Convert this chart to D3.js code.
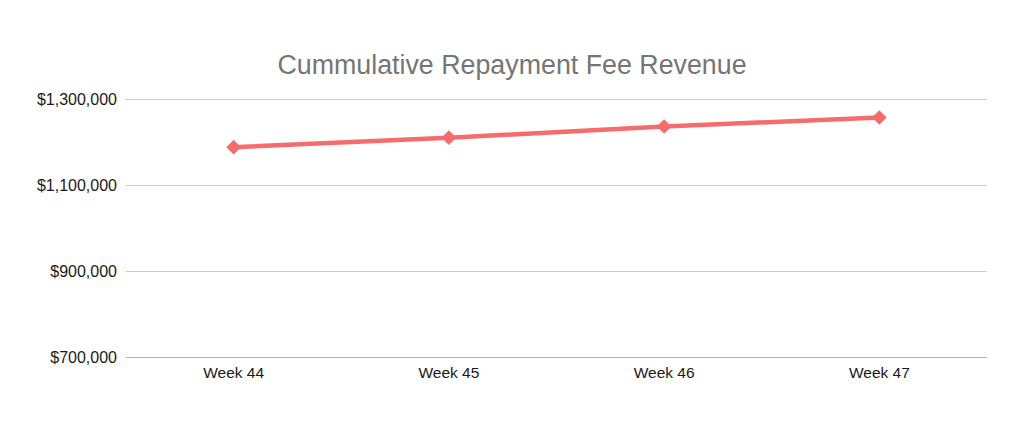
<!DOCTYPE html>
<html><head><meta charset="utf-8">
<script src="https://cdn.jsdelivr.net/npm/d3@7"></script>
<style>html,body{margin:0;padding:0;background:#fff;}svg{display:block;font-family:"Liberation Sans",Arial,Helvetica,sans-serif;}</style>
</head><body>
<svg id="c" width="1024" height="431"></svg>
<script>
const title = "Cummulative Repayment Fee Revenue";
const categories = ["Week 44", "Week 45", "Week 46", "Week 47"];
const revenue = [1188000, 1210000, 1236000, 1257000];
const yTicks = [700000, 900000, 1100000, 1300000];

const svg = d3.select("#c");
const plotLeft = 126, plotRight = 987, plotTop = 99, plotBottom = 357;

const x = d3.scaleBand().domain(categories).range([plotLeft, plotRight]);
const y = d3.scaleLinear().domain([700000, 1300000]).range([plotBottom, plotTop]);
const fmt = v => "$" + d3.format(",")(v);

svg.append("text").attr("x", 512).attr("y", 74).attr("text-anchor", "middle")
  .attr("font-size", 26.8).attr("fill", "#757575").text(title);

// grid
svg.append("g").selectAll("line").data(yTicks).join("line")
  .attr("x1", plotLeft).attr("x2", plotRight)
  .attr("y1", d => Math.round(y(d)) + 0.5).attr("y2", d => Math.round(y(d)) + 0.5)
  .attr("stroke", d => d === 700000 ? "#b0b0b0" : "#cccccc").attr("stroke-width", 1);

// y labels
svg.append("g").selectAll("text").data(yTicks).join("text")
  .attr("x", 117).attr("y", d => y(d)).attr("dy", "0.36em")
  .attr("text-anchor", "end").attr("font-size", 16).attr("fill", "#1a1a1a")
  .text(fmt);

// x labels
svg.append("g").selectAll("text").data(categories).join("text")
  .attr("x", d => x(d) + x.bandwidth() / 2).attr("y", 378)
  .attr("text-anchor", "middle").attr("font-size", 15.5).attr("fill", "#1a1a1a")
  .text(d => d);

const pts = categories.map((c, i) => [x(c) + x.bandwidth() / 2, y(revenue[i])]);
const color = "#f46c6c";
svg.append("path").attr("d", d3.line()(pts)).attr("fill", "none")
  .attr("stroke", color).attr("stroke-width", 4.5).attr("stroke-linejoin", "round");

svg.append("g").selectAll("path").data(pts).join("path")
  .attr("transform", d => `translate(${d[0]},${d[1]}) rotate(45)`)
  .attr("d", "M-5.2,-5.2L5.2,-5.2L5.2,5.2L-5.2,5.2Z").attr("fill", color);
</script>
</body></html>
